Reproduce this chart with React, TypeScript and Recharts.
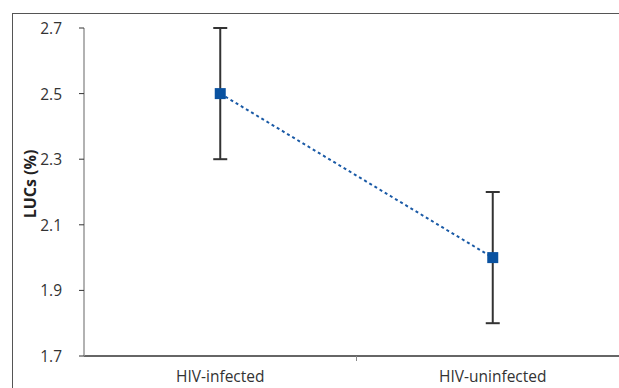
import React from 'react';
import { ComposedChart, Line, XAxis, YAxis, ErrorBar } from 'recharts';

const categories = ['HIV-infected', 'HIV-uninfected'];
const positions = [0.5, 1.5];
const lucValues = [2.5, 2.0];
const lucErrors = [0.2, 0.2];
const yTicks = [1.7, 1.9, 2.1, 2.3, 2.5, 2.7];
const xTicks = [0.5, 1, 1.5];

const data = categories.map((c, i) => ({ name: c, x: positions[i], value: lucValues[i], err: lucErrors[i] }));

const FONT = '"Open Sans", sans-serif';

const XTick = (props: any) => {
  const { x, y, payload } = props;
  const idx = positions.indexOf(payload.value);
  if (idx < 0) {
    return <line x1={x} x2={x} y1={y - 8} y2={y - 3} stroke="#888" strokeWidth={1} />;
  }
  return (
    <text x={x} y={y + 18} textAnchor="middle" fill="#333" fontSize={15.5} fontFamily={FONT}>
      {categories[idx]}
    </text>
  );
};

const YTick = (props: any) => {
  const { x, y, payload } = props;
  return (
    <text x={x - 15} y={y} textAnchor="end" dominantBaseline="central" fill="#333" fontSize={15.5} fontFamily={FONT}>
      {Number(payload.value).toFixed(1)}
    </text>
  );
};

const Square = (props: any) => {
  const { cx, cy } = props;
  if (cx == null || cy == null) return null;
  return <rect x={cx - 5.5} y={cy - 5.5} width={11} height={11} fill="#0a52a0" />;
};

export default function App() {
  return (
    <div style={{ position: 'absolute', left: 0, top: 0, width: 619, height: 388, overflow: 'hidden', background: '#fff' }}>
      <div style={{ position: 'absolute', left: 12, top: 13, width: 700, height: 500, border: '1.5px solid #555', boxSizing: 'border-box' }} />
      <div style={{ position: 'absolute', left: 0, top: 0 }}>
        <ComposedChart width={640} height={400} data={data} margin={{ top: 28, right: 11, bottom: 14, left: 0 }}>
          <XAxis
            dataKey="x"
            type="number"
            domain={[0, 2]}
            ticks={xTicks}
            tickLine={false}
            axisLine={{ stroke: '#333', strokeWidth: 1.5 }}
            tick={<XTick />}
            height={30}
            interval={0}
          />
          <YAxis
            type="number"
            domain={[1.7, 2.7]}
            ticks={yTicks}
            width={84}
            axisLine={{ stroke: '#999', strokeWidth: 1.5 }}
            tickLine={{ stroke: '#333' }}
            tickSize={5}
            tick={<YTick />}
            interval={0}
            label={{
              content: () => (
                <text x={30} y={184} transform="rotate(-90 30 184)" textAnchor="middle" dominantBaseline="central" fontSize={16} fontWeight="bold" fontFamily={FONT} fill="#222">
                  LUCs (%)
                </text>
              ),
            }}
          />
          <Line
            dataKey="value"
            stroke="#1a5aa6"
            strokeWidth={2}
            strokeDasharray="3 3"
            dot={<Square />}
            activeDot={false}
            isAnimationActive={false}
          >
            <ErrorBar dataKey="err" width={7} strokeWidth={2} stroke="#333" direction="y" />
          </Line>
        </ComposedChart>
      </div>
    </div>
  );
}
